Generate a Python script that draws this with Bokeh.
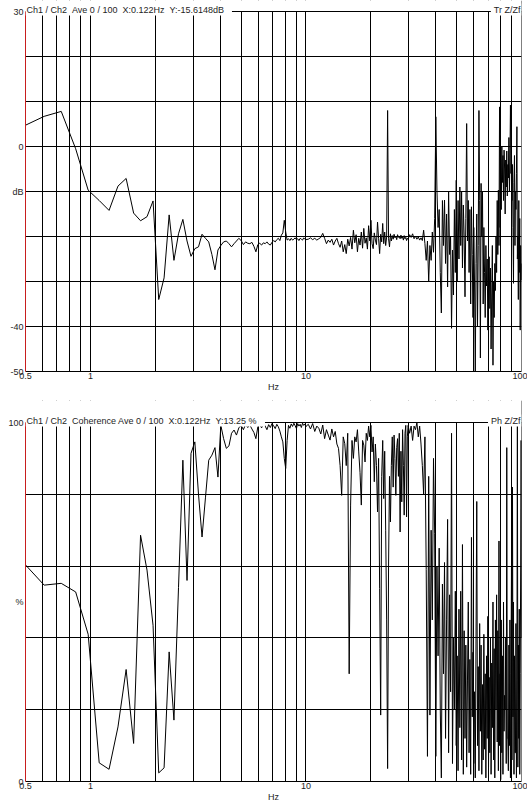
import numpy as np
from bokeh.plotting import figure
from bokeh.layouts import column
from bokeh.models import FixedTicker, NumeralTickFormatter, Label, Span, BoxAnnotation
from bokeh.embed import file_html
from bokeh.resources import INLINE

# ---------------- data ----------------
BIN_HZ = 0.1220703            # analyser resolution (X:0.122Hz)
FINE_BINS = (4, 83, 1)        # 0.49 - 10 Hz : every bin
MID_BINS = (84, 245, 2)       # 10 - 30 Hz   : every 2nd bin
COARSE_BINS = (248, 821, 4)   # 30 - 100 Hz  : every 4th bin

SP2 = " \u00a0"               # a double space that SVG will not collapse
TOP_TITLE = "Ch1 / Ch2" + SP2 + "Ave 0 / 100" + SP2 + "X:0.122Hz" + SP2 + "Y:-15.6148dB"
TOP_TAG = "Tr Z/Zf"
BOT_TITLE = "Ch1 / Ch2" + SP2 + "Coherence Ave 0 / 100" + SP2 + "X:0.122Hz" + SP2 + "Y:13.25 %"
BOT_TAG = "Ph Z/Zf"
X_NAME = "Hz"

X_GRID = [0.6, 0.7, 0.8, 0.9, 1, 2, 3, 4, 5, 6, 7, 8, 9, 10, 20, 30, 40, 50, 60, 70, 80, 90]
X_TICKS = [0.5, 1, 10, 100]
TOP_Y_TICKS = [-50, -40, -10, 0, 30]
TOP_Y_NAMES = {-10: "dB"}
TOP_Y_GRID = [-40, -30, -20, -10, 0, 10, 20]
BOT_Y_TICKS = [0, 50, 100]
BOT_Y_NAMES = {50: "%"}
BOT_Y_GRID = [20, 40, 60, 80]

# transfer function magnitude, dB
TR_DB_FINE = [
    4.5, 6.7, 7.8, -0.5, -9.7, -12.0, -14.2, -8.8, -7.1, -14.8,
    -16.5, -15.6, -12.1, -34.0, -29.2, -15.2, -25.3, -19.4, -16.2, -21.0,
    -24.4, -22.7, -22.3, -19.5, -20.4, -21.2, -24.0, -27.4, -23.0, -22.0,
    -21.2, -21.0, -21.6, -22.3, -21.6, -21.0, -20.4, -20.9, -21.8, -21.2,
    -21.5, -21.6, -21.3, -22.2, -23.4, -21.8, -21.5, -21.9, -21.4, -21.6,
    -21.2, -21.7, -21.9, -21.3, -20.9, -21.2, -20.7, -20.4, -20.9, -19.7,
    -19.2, -16.4, -19.0, -20.8, -20.5, -20.9, -20.4, -20.8, -20.6, -20.3,
    -20.7, -20.5, -20.9, -20.4, -20.6, -20.8, -20.3, -20.6, -20.7,
]
TR_DB_MID = [
    -20.6, -20.3, -20.7, -20.4, -20.8, -20.5, -20.2, -19.3, -20.4, -21.6,
    -20.8, -21.3, -20.6, -21.9, -21.0, -20.4, -21.6, -22.4, -21.0, -23.4,
    -21.8, -23.8, -20.6, -22.1, -20.2, -22.8, -18.6, -21.4, -19.6, -23.4,
    -20.4, -21.9, -19.0, -22.6, -18.2, -21.5, -20.3, -22.8, -17.6, -21.0,
    -16.4, -21.6, -22.7, -19.2, -20.8, -21.8, -16.8, -20.4, -23.8, -19.5,
    -21.2, -17.1, -21.6, -19.0, -22.0, -20.1, 8.0, -20.5, -22.3, -19.4,
    -21.0, -19.8, -20.6, -19.5, -20.3, -19.9, -20.7, -19.6, -20.2, -20.0,
    -20.5, -19.7, -20.4, -20.1, -20.8, -19.8, -20.5, -20.2, -20.9, -20.4,
    -20.6,
]
TR_DB_COARSE = [
    -19.6, -20.2, -19.4, -20.5, -19.9, -20.6, -20.1, -20.8, -20.3, -20.9,
    -18.6, -21.6, -25.3, -21.0, -30.0, -22.0, -25.3, -19.0, -23.5, -16.0,
    6.6, -9.7, -18.0, -14.0, -28.0, -37.0, -12.0, -22.0, -11.9, -26.0,
    -15.0, -31.2, -10.0, -24.0, -20.0, -40.4, -23.0, -33.0, -14.0, -28.0,
    -7.5, -30.0, -12.0, -25.0, -9.0, -22.0, -10.0, -27.0, -13.0, -20.0,
    -33.4, -16.0, 5.1, -21.0, -12.0, -28.0, -14.0, -35.0, -13.4, -24.0,
    -38.0, -18.0, -30.0, -50.0, -26.0, -15.0, -40.0, -22.0, 8.0, -12.0,
    -47.0, -8.2, -20.0, -10.0, -35.0, -18.0, -28.0, -38.0, -22.0, -31.0,
    -25.0, -40.8, -30.0, -24.5, -36.0, -27.0, -45.0, -33.0, -22.0, -48.6,
    -30.0, -38.0, -26.0, -32.0, -20.0, -28.0, -12.0, -24.0, -9.7, -22.0,
    8.8, -18.0, -3.0, -14.0, 0.0, -8.0, -2.0, -12.0, -0.8, -5.0,
    -15.0, -3.0, -9.0, -1.0, -11.0, -4.0, -7.0, 2.0, -10.0, -3.0,
    9.2, -6.0, -1.0, -12.0, -4.0, -18.0, -30.4, -8.0, -2.0, -22.0,
    -10.0, -14.0, -6.0, 4.4, -25.0, -20.0, -34.0, -12.0, -28.0, -16.0,
    -40.8, -22.0, -29.7, -26.0,
]

# coherence, %
COH_FINE = [
    61.0, 54.7, 55.2, 52.8, 41.0, 5.2, 3.4, 15.2, 31.2, 10.6,
    68.6, 58.9, 43.5, 2.4, 3.8, 36.1, 17.1, 54.0, 89.5, 56.0,
    91.4, 94.6, 80.0, 68.1, 79.0, 89.5, 90.9, 93.0, 84.8, 99.2,
    95.5, 92.8, 93.5, 97.0, 97.9, 96.5, 98.5, 99.2, 98.0, 99.5,
    98.6, 99.3, 98.2, 97.2, 95.5, 98.8, 99.5, 98.5, 99.6, 99.0,
    98.0, 99.4, 98.6, 99.7, 99.1, 98.3, 99.5, 98.8, 97.6, 96.0,
    94.6, 90.0, 87.2, 95.0, 99.2, 98.4, 99.6, 98.9, 99.8, 99.1,
    98.3, 99.7, 99.0, 99.5, 98.6, 99.8, 99.2, 99.6, 98.9,
]
COH_MID = [
    99.5, 98.2, 99.7, 97.5, 99.0, 98.4, 96.8, 99.3, 95.5, 98.0,
    96.5, 95.1, 98.2, 96.0, 97.5, 94.0, 92.8, 88.0, 79.7, 96.0,
    94.1, 88.0, 97.0, 30.0, 77.0, 95.0, 90.0, 96.0, 94.6, 98.0,
    91.8, 86.0, 77.0, 95.0, 93.7, 89.0, 97.0, 95.0, 99.0, 96.0,
    99.2, 91.8, 96.0, 83.5, 94.0, 88.0, 75.1, 90.0, 53.8, 18.5,
    85.0, 95.0, 78.8, 92.0, 70.0, 45.0, 3.6, 60.0, 85.0, 72.3,
    88.0, 96.0, 82.0, 96.5, 90.0, 79.7, 93.0, 95.5, 85.0, 97.0,
    69.5, 92.0, 77.9, 98.0, 88.0, 74.2, 97.0, 99.2, 73.7, 96.0,
    99.2,
]
COH_COARSE = [
    97, 99, 95, 99, 98, 100, 96, 99, 94, 88,
    80, 96, 59, 7, 85, 18.5, 70, 45, 90, 69,
    7, 60, 35, 65, 20, 1, 55, 30, 61, 12,
    45, 73, 8, 52, 25, 97, 5, 40, 20, 53,
    10, 35, 3, 48, 15, 53, 6, 66, 2, 42,
    12, 38, 4, 28, 50, 8, 34, 2, 68, 18,
    36, 5, 25, 1, 40, 78, 10, 32, 3, 44,
    14, 38, 2, 27, 6, 41, 9, 30, 1, 35,
    12, 46, 4, 29, 8, 40, 2, 33, 15, 50,
    6, 37, 1, 45, 20, 52, 11, 42, 3, 67,
    10, 30, 0.5, 45, 8, 35, 2, 50, 14, 24,
    20, 40, 5, 93, 12, 12, 3, 38, 10, 45,
    1, 30, 60, 6, 82, 18, 50, 2, 35, 8,
    8, 44, 1, 28, 99.7, 4, 38, 12, 48, 2,
    30, 60, 95, 40,
]

# ---------------- drawing ----------------
FONT = "Liberation Sans"
INK = "#1e1e1e"
RED = "#c81e1e"

freq = np.concatenate([np.arange(*FINE_BINS), np.arange(*MID_BINS),
                       np.arange(*COARSE_BINS)]) * BIN_HZ
tr_db = TR_DB_FINE + TR_DB_MID + TR_DB_COARSE
coh = COH_FINE + COH_MID + COH_COARSE


def panel(height, strip, b_bottom, y_lo, y_hi, y_ticks, y_names, y_grid,
          values, title, tag):
    # the frame reaches to the top of the canvas; a strip of `strip` px
    # above the top value holds the header texts
    frame_h = height - b_bottom
    y_top = y_hi + strip * (y_hi - y_lo) / (frame_h - strip)
    p = figure(width=527, height=height, x_axis_type="log",
               x_range=(0.5, 100), y_range=(y_lo, y_top),
               output_backend="svg", toolbar_location=None,
               min_border_left=25, min_border_right=6,
               min_border_top=0, min_border_bottom=b_bottom)
    p.outline_line_color = None
    p.background_fill_color = "white"
    p.border_fill_color = "white"

    p.xgrid.ticker = FixedTicker(ticks=X_GRID)
    p.ygrid.ticker = FixedTicker(ticks=y_grid)
    for g in (p.xgrid, p.ygrid):
        g.grid_line_color = "black"
        g.grid_line_width = 1
        g.grid_line_alpha = 1.0
    # right border, then white header strip, then top border
    p.add_layout(Span(location=100, dimension="height", line_color="black",
                      line_width=1, level="underlay"))
    p.add_layout(BoxAnnotation(bottom=y_hi, fill_color="white", fill_alpha=1.0,
                               line_color=None, level="underlay"))
    p.add_layout(Span(location=y_hi, dimension="width", line_color="black",
                      line_width=1, level="underlay"))

    xa = p.xaxis[0]
    xa.ticker = FixedTicker(ticks=X_TICKS)
    xa.formatter = NumeralTickFormatter(format="0.[0]")
    xa.axis_label = X_NAME
    xa.axis_label_text_font = FONT
    xa.axis_label_text_font_size = "9px"
    xa.axis_label_text_font_style = "normal"
    xa.axis_label_text_color = INK
    xa.axis_label_standoff = 0
    xa.axis_line_color = "black"

    ya = p.yaxis[0]
    ya.ticker = FixedTicker(ticks=y_ticks)
    ya.formatter = NumeralTickFormatter(format="0")
    ya.major_label_overrides = y_names
    ya.bounds = (y_lo, y_hi)
    ya.axis_line_color = RED
    ya.axis_line_width = 1

    for ax in (xa, ya):
        ax.major_tick_in = 0
        ax.major_tick_out = 0
        ax.minor_tick_in = 0
        ax.minor_tick_out = 0
        ax.major_label_text_font = FONT
        ax.major_label_text_font_size = "9px"
        ax.major_label_text_color = INK
    xa.major_label_standoff = 1
    ya.major_label_standoff = 2

    p.line(freq, values, line_color="black", line_width=1)

    common = dict(text_font=FONT, text_font_size="9px", text_color=INK)
    p.add_layout(Label(x=0.5, y=y_hi, text=title, text_align="left",
                       text_baseline="alphabetic", y_offset=2,
                       background_fill_color="white",
                       padding=dict(left=1, right=8, top=1, bottom=1),
                       **common))
    p.add_layout(Label(x=100, y=y_hi, text=tag, text_align="right",
                       text_baseline="alphabetic", y_offset=2,
                       background_fill_color="white",
                       padding=dict(left=3, right=1, top=1, bottom=1),
                       **common))
    return p


p1 = panel(400, 11, 29, -50, 30, TOP_Y_TICKS, TOP_Y_NAMES, TOP_Y_GRID,
           tr_db, TOP_TITLE, TOP_TAG)
p2 = panel(404, 22, 23, 0, 100, BOT_Y_TICKS, BOT_Y_NAMES, BOT_Y_GRID,
           coh, BOT_TITLE, BOT_TAG)

layout = column(p1, p2)
open("out.html", "w").write(file_html(layout, INLINE))
